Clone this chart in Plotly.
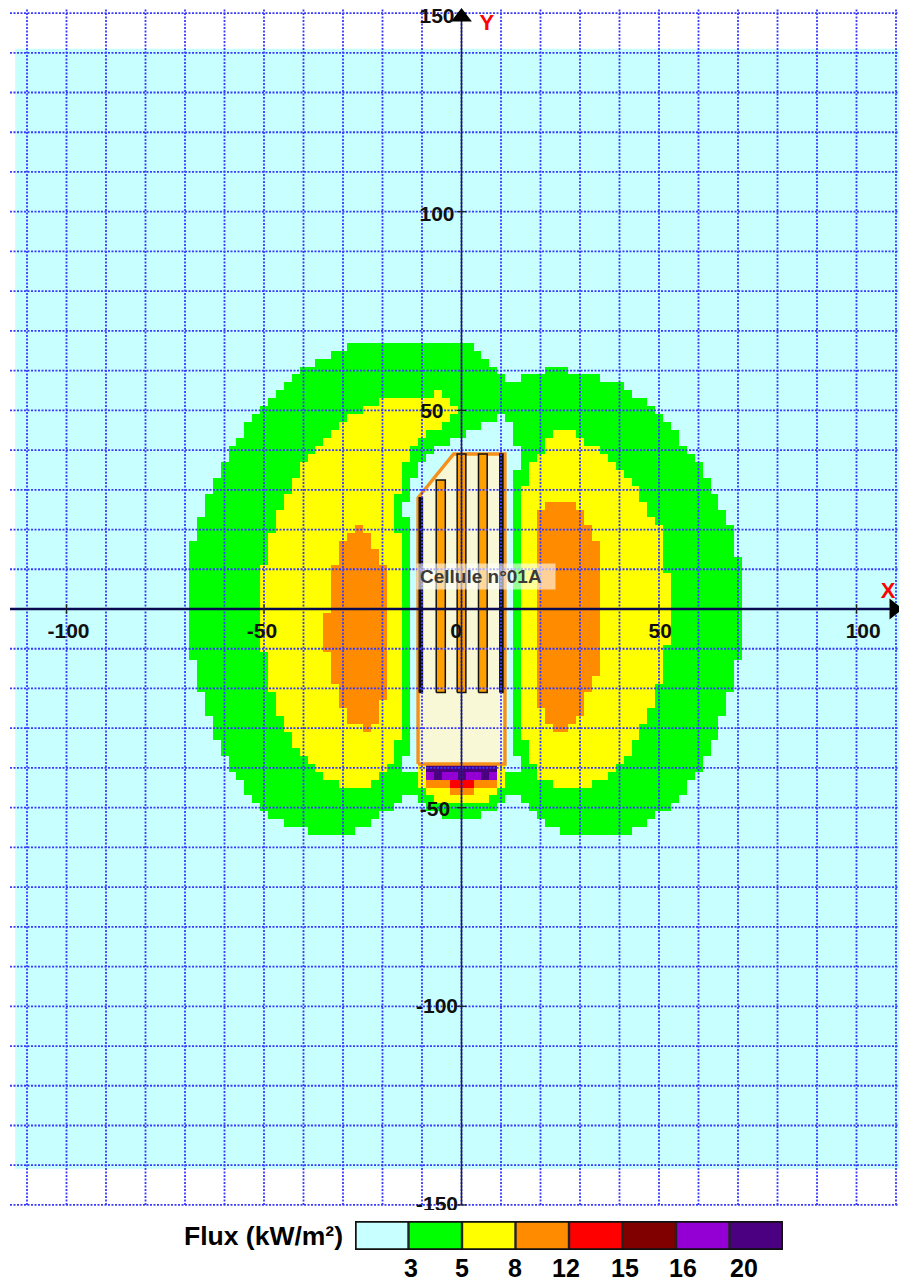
import plotly.graph_objects as go

W, H = 899, 1282

# ---- flux bands -------------------------------------------------------
BAND_KEYS = ["c", "g", "y", "o", "r", "d", "P", "I"]
BAND_COLORS = ["#C8FFFF", "#00FF00", "#FFFF00", "#FF8C00", "#FF0000", "#800000", "#9400D3", "#4B0082"]
LEGEND_TITLE = "Flux (kW/m²)"
LEGEND_LABELS = ["3", "5", "8", "12", "15", "16", "20"]
LEGEND_LABEL_PX = [411, 462, 515, 566, 625, 683, 744]

# Grid extent (cell centres every 2 m)
CELL_X = list(range(-112, 114, 2))
CELL_Y = list(range(-140, 142, 2))

# Each row: edge band edge band edge ... (cyan outside)
FLUX_ROWS = {
    66: "-29 g 3",
    64: "-33 g 5",
    62: "-37 g 7",
    60: "-41 g 9 c 21 g 27",
    58: "-43 g 11 c 15 g 35",
    56: "-45 g 41",
    54: "-47 g -7 y -5 g 43",
    52: "-49 g -21 y -3 g 47",
    50: "-51 g -25 y -1 g 49",
    48: "-53 g -29 y -3 g 9 c 11 g 51",
    46: "-55 g -31 y -5 g 5 c 13 g 53",
    44: "-55 g -33 y -9 g 1 c 13 g 23 y 29 g 55",
    42: "-57 g -35 y -11 g -3 c 13 g 21 y 31 g 55",
    40: "-59 g -37 y -13 g -7 c 15 g 21 y 35 g 57",
    38: "-59 g -39 y -13 g -9 c 15 g 19 y 37 g 59",
    36: "-61 g -41 y -15 g -11 c 15 g 17 y 39 g 61",
    34: "-61 g -41 y -15 g -11 c 13 g 17 y 41 g 61",
    32: "-63 g -43 y -15 g -13 c 13 g 17 y 43 g 63",
    30: "-63 g -43 y -15 g -13 c 13 g 15 y 45 g 63",
    28: "-65 g -45 y -17 g -13 c 13 g 15 y 45 g 65",
    26: "-65 g -45 y -17 g -15 c 13 g 15 y 21 o 29 y 47 g 65",
    24: "-65 g -47 y -17 g -15 c 13 g 15 y 19 o 31 y 47 g 67",
    22: "-67 g -47 y -17 g -13 c 13 g 15 y 19 o 31 y 49 g 67",
    20: "-67 g -47 y -27 o -25 y -17 g -13 c 13 g 15 y 19 o 33 y 51 g 69",
    18: "-67 g -49 y -29 o -23 y -15 g -13 c 13 g 15 y 19 o 33 y 51 g 69",
    16: "-69 g -49 y -31 o -23 y -15 g -13 c 13 g 15 y 19 o 35 y 51 g 69",
    14: "-69 g -49 y -31 o -21 y -15 g -13 c 13 g 15 y 19 o 35 y 51 g 69",
    12: "-69 g -49 y -31 o -21 y -15 g -13 c 13 g 15 y 19 o 35 y 51 g 71",
    10: "-69 g -51 y -33 o -19 y -15 g -13 c 13 g 15 y 19 o 35 y 51 g 71",
    8: "-69 g -51 y -33 o -19 y -15 g -13 c 13 g 15 y 19 o 35 y 53 g 71",
    6: "-69 g -51 y -33 o -19 y -15 g -13 c 13 g 15 y 19 o 35 y 53 g 71",
    4: "-69 g -51 y -33 o -19 y -15 g -13 c 13 g 15 y 19 o 35 y 53 g 71",
    2: "-69 g -51 y -33 o -19 y -15 g -13 c 13 g 15 y 19 o 35 y 53 g 71",
    0: "-69 g -51 y -33 o -19 y -15 g -13 c 13 g 15 y 19 o 35 y 53 g 71",
    -2: "-69 g -51 y -35 o -19 y -15 g -13 c 13 g 15 y 19 o 35 y 53 g 71",
    -4: "-69 g -51 y -35 o -19 y -15 g -13 c 13 g 15 y 19 o 35 y 53 g 71",
    -6: "-69 g -51 y -35 o -19 y -15 g -13 c 13 g 15 y 19 o 35 y 53 g 71",
    -8: "-69 g -51 y -35 o -19 y -15 g -13 c 13 g 15 y 19 o 35 y 53 g 71",
    -10: "-69 g -51 y -35 o -19 y -15 g -13 c 13 g 15 y 19 o 35 y 51 g 71",
    -12: "-69 g -49 y -33 o -19 y -15 g -13 c 13 g 15 y 19 o 35 y 51 g 71",
    -14: "-67 g -49 y -33 o -19 y -15 g -13 c 13 g 15 y 19 o 35 y 51 g 69",
    -16: "-67 g -49 y -33 o -19 y -15 g -13 c 13 g 15 y 19 o 35 y 51 g 69",
    -18: "-67 g -49 y -33 o -19 y -15 g -13 c 13 g 15 y 19 o 33 y 51 g 69",
    -20: "-67 g -49 y -31 o -19 y -15 g -13 c 13 g 15 y 19 o 33 y 49 g 69",
    -22: "-65 g -47 y -31 o -19 y -15 g -13 c 13 g 15 y 19 o 31 y 49 g 67",
    -24: "-65 g -47 y -31 o -21 y -15 g -13 c 13 g 15 y 19 o 31 y 49 g 67",
    -26: "-65 g -47 y -29 o -21 y -15 g -13 c 13 g 15 y 21 o 31 y 47 g 67",
    -28: "-63 g -45 y -29 o -21 y -15 g -13 c 13 g 15 y 21 o 29 y 47 g 65",
    -30: "-63 g -45 y -25 o -23 y -15 g -13 c 13 g 15 y 23 o 27 y 45 g 65",
    -32: "-63 g -43 y -15 g -13 c 13 g 15 y 45 g 65",
    -34: "-61 g -43 y -17 g -13 c 13 g 17 y 43 g 63",
    -36: "-61 g -41 y -17 g -13 c 13 g 17 y 43 g 63",
    -38: "-59 g -39 y -17 g -15 c 15 g 17 y 41 g 61",
    -40: "-59 g -37 y -19 g -15 c -11 y -9 I 9 y 11 c 15 g 19 y 39 g 61",
    -42: "-57 g -35 y -21 g -11 y -9 P -7 I -5 P -1 I 1 P 5 I 7 P 9 y 11 g 19 y 37 g 59",
    -44: "-55 g -31 y -23 g -11 y -9 o -3 r 3 o 9 y 11 g 23 y 33 g 57",
    -46: "-55 g -9 y -3 o 3 y 9 g 57",
    -48: "-53 g -15 c -11 g -7 y 7 g 11 c 15 g 55",
    -50: "-51 g -17 c -9 g 9 c 17 g 53",
    -52: "-49 g -21 c -5 g 5 c 19 g 49",
    -54: "-45 g -23 c 21 g 47",
    -56: "-39 g -27 c 25 g 43",
}

# ---- building ---------------------------------------------------------
BUILDING_X = [-11, 11, 11, -2, -11, -11]
BUILDING_Y = [-39, -39, 39, 39, 28, -39]
RACK_LEFT = [-10.7, -6.4, -1.1, 4.3, 9.7]
RACK_RIGHT = [-9.9, -4.1, 1.1, 6.5, 10.5]
RACK_TOP = [28, 32.5, 39, 39, 39]
RACK_FILL = ["#0A0A20", "#FFA000", "#FFA000", "#FFA000", "#0A0A20"]
RACK_BOTTOM = -21
BUILDING_LABEL = "Cellule n°01A"

# ---- axes -------------------------------------------------------------
GRID_X = list(range(-110, 111, 10))
GRID_Y = list(range(-150, 151, 10))
X_TICKS = [-100, -50, 50, 100]
Y_TICKS = [-150, -100, -50, 50, 100, 150]
X_LABEL_VALUES = ["-100", "-50", "0", "50", "100"]
X_LABEL_POS = [-99.5, -50.5, -1.4, 50.3, 101.7]
Y_LABEL_VALUES = ["150", "100", "50", "-50", "-100", "-150"]
Y_LABEL_X = [-6.2, -6.2, -7.5, -6.7, -6.2, -6.2]
Y_LABEL_POS = [148.9, 99, 49.5, -50.7, -100.3, -150.1]

# ---- page geometry (pixels of the reference) ---------------------------
PX_PER_M_X, PX_PER_M_Y = 3.95, 3.973
X0_PX, Y0_PX = 461.5, 609
PLOT_BOTTOM_PX = 1210
x_range = [-X0_PX / PX_PER_M_X, (W - X0_PX) / PX_PER_M_X]
y_range = [(Y0_PX - PLOT_BOTTOM_PX) / PX_PER_M_Y, Y0_PX / PX_PER_M_Y]
LEFT_END = (10 - X0_PX) / PX_PER_M_X
TOP_END = (Y0_PX - 8) / PX_PER_M_Y


def expand(row):
    out = [0] * len(CELL_X)
    if row is None:
        return out
    tok = row.split()
    for i in range(0, len(tok) - 2, 2):
        a, b, c = int(tok[i]), tok[i + 1], int(tok[i + 2])
        for j, xc in enumerate(CELL_X):
            if a < xc < c:
                out[j] = BAND_KEYS.index(b)
    return out


z = [expand(FLUX_ROWS.get(y)) for y in CELL_Y]
n = len(BAND_COLORS)
colorscale = []
for i, c in enumerate(BAND_COLORS):
    colorscale += [[i / n, c], [(i + 1) / n, c]]

fig = go.Figure()
fig.add_trace(go.Heatmap(x=CELL_X, y=CELL_Y, z=z, zmin=0, zmax=n, colorscale=colorscale,
                         showscale=False, hoverinfo="skip"))

# building and racks
fig.add_trace(go.Scatter(x=BUILDING_X, y=BUILDING_Y, mode="lines", fill="toself",
                         fillcolor="#F8F8D6", line=dict(color="#F5901A", width=3.4), hoverinfo="skip"))
for x0, x1, top, col in zip(RACK_LEFT, RACK_RIGHT, RACK_TOP, RACK_FILL):
    fig.add_trace(go.Scatter(x=[x0, x1, x1, x0, x0], y=[RACK_BOTTOM, RACK_BOTTOM, top, top, RACK_BOTTOM],
                             mode="lines", fill="toself", fillcolor=col,
                             line=dict(color="#101010", width=1.5), hoverinfo="skip"))

# dotted grid
gx, gy = [], []
for v in GRID_X:
    gx += [v, v, None]
    gy += [GRID_Y[0], TOP_END, None]
for v in GRID_Y:
    gx += [LEFT_END, x_range[1], None]
    gy += [v, v, None]
fig.add_trace(go.Scatter(x=gx, y=gy, mode="lines", hoverinfo="skip",
                         line=dict(color="#3A3AFF", width=1.8, dash="2px,1.5px")))

# axis lines and ticks
fig.add_trace(go.Scatter(x=[LEFT_END, x_range[1]], y=[0, 0], mode="lines", hoverinfo="skip",
                         line=dict(color="#0A0A50", width=2.6)))
fig.add_trace(go.Scatter(x=[0, 0], y=[GRID_Y[0], GRID_Y[-1]], mode="lines", hoverinfo="skip",
                         line=dict(color="#222222", width=1.5)))
tx, ty = [], []
for v in X_TICKS:
    tx += [v, v, None]
    ty += [-1.2, 1.2, None]
for v in Y_TICKS:
    tx += [-1.2, 1.2, None]
    ty += [v, v, None]
fig.add_trace(go.Scatter(x=tx, y=ty, mode="lines", hoverinfo="skip", line=dict(color="#222222", width=1.3)))

# arrow heads
fig.add_trace(go.Scatter(x=[0], y=[149], mode="markers", hoverinfo="skip",
                         marker=dict(symbol="triangle-up", size=18, color="black")))
fig.add_trace(go.Scatter(x=[109.5], y=[0], mode="markers", hoverinfo="skip", cliponaxis=True,
                         marker=dict(symbol="triangle-right", size=18, color="black")))

# tick labels (clipped by the plot area like the original canvas)
TICK_FONT = dict(family="Liberation Sans", size=21, color="#101010")
fig.add_trace(go.Scatter(x=X_LABEL_POS, y=[-5.9] * len(X_LABEL_POS), mode="text",
                         text=["<b>" + t + "</b>" for t in X_LABEL_VALUES],
                         textposition="middle center", textfont=TICK_FONT, hoverinfo="skip"))
fig.add_trace(go.Scatter(x=Y_LABEL_X, y=Y_LABEL_POS, mode="text",
                         text=["<b>" + t + "</b>" for t in Y_LABEL_VALUES],
                         textposition="middle center", textfont=TICK_FONT, hoverinfo="skip"))
RED_FONT = dict(family="Liberation Sans", size=22, color="#FF0000")
fig.add_trace(go.Scatter(x=[6.4, 108], y=[147, 4.2], mode="text", text=["<b>Y</b>", "<b>X</b>"],
                         textposition="middle center", textfont=RED_FONT, hoverinfo="skip"))

# legend strip
fig.add_trace(go.Heatmap(x=[i + 0.5 for i in range(n)], y=[0.5], z=[list(range(n))], zmin=0, zmax=n,
                         colorscale=colorscale, showscale=False, hoverinfo="skip",
                         xaxis="x2", yaxis="y2"))
lx, ly = [], []
for i in range(1, n):
    lx += [i, i, None]
    ly += [-0.07, 1, None]
fig.add_trace(go.Scatter(x=lx, y=ly, mode="lines", xaxis="x2", yaxis="y2", cliponaxis=False,
                         hoverinfo="skip", line=dict(color="#222222", width=2.4)))
fig.add_trace(go.Scatter(x=[0, n, n, 0, 0], y=[0, 0, 1, 1, 0], mode="lines", xaxis="x2", yaxis="y2",
                         cliponaxis=False, hoverinfo="skip", line=dict(color="#111111", width=3.4)))

annotations = [
    dict(text="<b>" + BUILDING_LABEL + "</b>", xref="x", yref="y", x=(416 - X0_PX) / PX_PER_M_X,
         y=(Y0_PX - 576) / PX_PER_M_Y, xanchor="left", yanchor="middle", showarrow=False, align="left",
         width=132, height=19, bgcolor="rgba(255,255,255,0.6)", borderpad=3,
         font=dict(family="Liberation Sans", size=19, color="#3A3A3A")),
    dict(text="<b>" + LEGEND_TITLE + "</b>", xref="paper", yref="paper", x=263 / W, y=1 - 1236 / H,
         xanchor="center", yanchor="middle", showarrow=False,
         font=dict(family="Liberation Sans", size=26.5, color="black")),
]
for lab, px in zip(LEGEND_LABELS, LEGEND_LABEL_PX):
    annotations.append(dict(text="<b>" + lab + "</b>", xref="paper", yref="paper", x=px / W, y=1 - 1268 / H,
                            xanchor="center", yanchor="middle", showarrow=False,
                            font=dict(family="Liberation Sans", size=25, color="black")))

fig.update_layout(
    width=W, height=H, margin=dict(l=0, r=0, t=0, b=0), showlegend=False,
    paper_bgcolor="white", plot_bgcolor="white",
    xaxis=dict(domain=[0, 1], range=x_range, visible=False, fixedrange=True),
    yaxis=dict(domain=[1 - PLOT_BOTTOM_PX / H, 1], range=y_range, visible=False, fixedrange=True),
    xaxis2=dict(domain=[355 / W, 783 / W], range=[0, n], visible=False, anchor="y2"),
    yaxis2=dict(domain=[1 - 1250 / H, 1 - 1221 / H], range=[0, 1], visible=False, anchor="x2"),
    annotations=annotations,
)
fig.write_html("out.html", config={"displayModeBar": False},
               post_script="document.body.style.margin='0';document.body.style.overflow='hidden';")
